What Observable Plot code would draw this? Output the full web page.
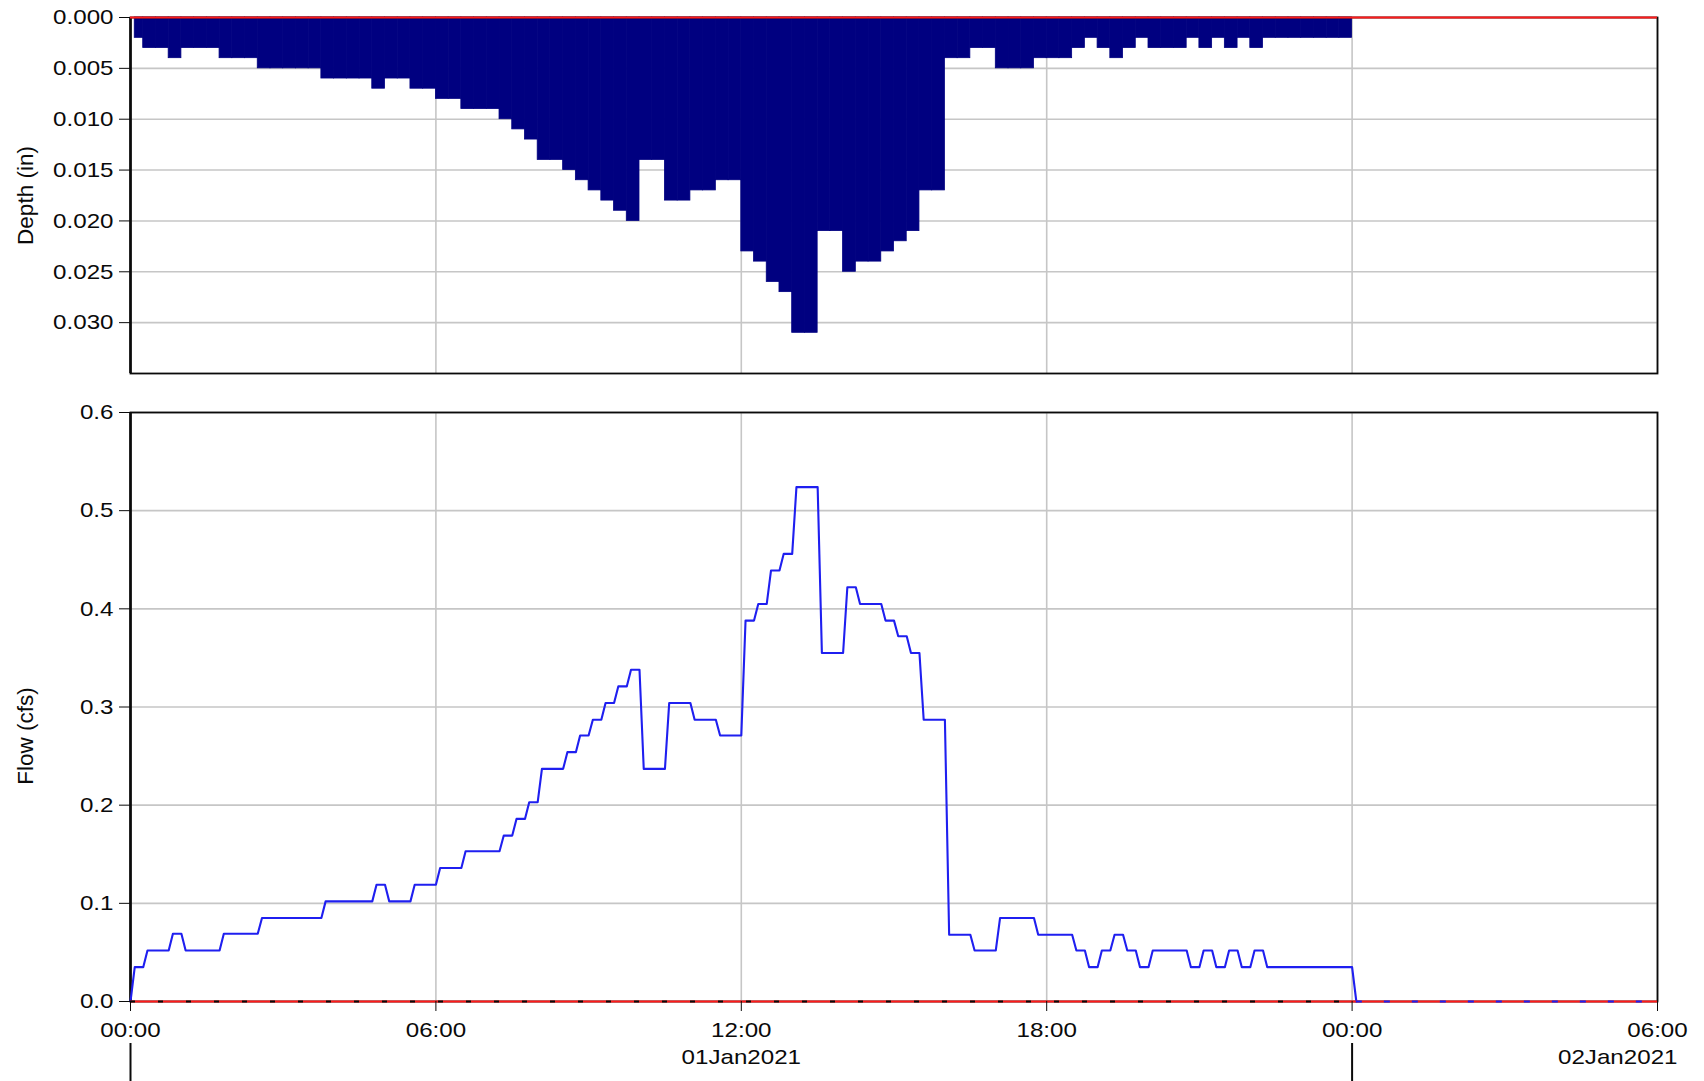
<!DOCTYPE html>
<html><head><meta charset="utf-8">
<script src="https://cdn.jsdelivr.net/npm/d3@7"></script>
<script src="https://cdn.jsdelivr.net/npm/@observablehq/plot@0.6"></script>
<style>
html,body{margin:0;padding:0;background:#fff;}
#chart{position:relative;width:1704px;height:1081px;overflow:hidden;background:#fff;}
#chart svg{display:block;}
</style></head><body><div id="chart"></div>
<script>
// ---- data ----
const startTime = "2021-01-01T00:00:00Z";
const endTime = "2021-01-02T06:00:00Z";
const firstReading = "2021-01-01T00:05:00Z";
const stepMinutes = 15;
const rampMinutes = 5;

const depthIn = [
  0.002, 0.003, 0.003, 0.004, 0.003, 0.003, 0.003, 0.004, 0.004, 0.004,
  0.005, 0.005, 0.005, 0.005, 0.005, 0.006, 0.006, 0.006, 0.006, 0.007,
  0.006, 0.006, 0.007, 0.007, 0.008, 0.008, 0.009, 0.009, 0.009, 0.010,
  0.011, 0.012, 0.014, 0.014, 0.015, 0.016, 0.017, 0.018, 0.019, 0.020,
  0.014, 0.014, 0.018, 0.018, 0.017, 0.017, 0.016, 0.016, 0.023, 0.024,
  0.026, 0.027, 0.031, 0.031, 0.021, 0.021, 0.025, 0.024, 0.024, 0.023,
  0.022, 0.021, 0.017, 0.017, 0.004, 0.004, 0.003, 0.003, 0.005, 0.005,
  0.005, 0.004, 0.004, 0.004, 0.003, 0.002, 0.003, 0.004, 0.003, 0.002,
  0.003, 0.003, 0.003, 0.002, 0.003, 0.002, 0.003, 0.002, 0.003, 0.002,
  0.002, 0.002, 0.002, 0.002, 0.002, 0.002
];

const flowCfs = [
  0.035, 0.052, 0.052, 0.069, 0.052, 0.052, 0.052, 0.069, 0.069, 0.069,
  0.085, 0.085, 0.085, 0.085, 0.085, 0.102, 0.102, 0.102, 0.102, 0.119,
  0.102, 0.102, 0.119, 0.119, 0.136, 0.136, 0.153, 0.153, 0.153, 0.169,
  0.186, 0.203, 0.237, 0.237, 0.254, 0.271, 0.287, 0.304, 0.321, 0.338,
  0.237, 0.237, 0.304, 0.304, 0.287, 0.287, 0.271, 0.271, 0.388, 0.405,
  0.439, 0.456, 0.524, 0.524, 0.355, 0.355, 0.422, 0.405, 0.405, 0.388,
  0.372, 0.355, 0.287, 0.287, 0.068, 0.068, 0.052, 0.052, 0.085, 0.085,
  0.085, 0.068, 0.068, 0.068, 0.052, 0.035, 0.052, 0.068, 0.052, 0.035,
  0.052, 0.052, 0.052, 0.035, 0.052, 0.035, 0.052, 0.035, 0.052, 0.035,
  0.035, 0.035, 0.035, 0.035, 0.035, 0.035
];

const depthTicks = [0, 0.005, 0.010, 0.015, 0.020, 0.025, 0.030];
const flowTicks = [0, 0.1, 0.2, 0.3, 0.4, 0.5, 0.6];
const timeTicks = [
  "2021-01-01T00:00:00Z", "2021-01-01T06:00:00Z", "2021-01-01T12:00:00Z",
  "2021-01-01T18:00:00Z", "2021-01-02T00:00:00Z", "2021-01-02T06:00:00Z"
];
const dayBoundaries = ["2021-01-01T00:00:00Z", "2021-01-02T00:00:00Z"];
const dayLabels = ["01Jan2021", "02Jan2021"];
const dayLabelTimes = ["2021-01-01T12:00:00Z", "2021-01-02T06:00:00Z"];
const depthLabel = "Depth (in)";
const flowLabel = "Flow (cfs)";

// ---- derived tables ----
const parse = s => new Date(s);
const MIN = 60000;
const t0 = parse(startTime);
const tFirst = parse(firstReading);
const bars = depthIn.map((d, i) => {
  const s = new Date(+t0 + i * stepMinutes * MIN);
  return {start: s < tFirst ? tFirst : s, end: new Date(+s + stepMinutes * MIN), depth: d};
});
const flowPts = [];
for (let i = 0; i <= flowCfs.length; i++) {
  const t = new Date(+t0 + i * stepMinutes * MIN);
  const prev = i > 0 ? flowCfs[i - 1] : 0;
  const cur = i < flowCfs.length ? flowCfs[i] : 0;
  flowPts.push({t, q: prev});
  flowPts.push({t: new Date(+t + rampMinutes * MIN), q: cur});
}
const flowEnd = flowPts[flowPts.length - 1].t;

// ---- styling ----
const W = 1704;
const xDomain = [parse(startTime), parse(endTime)];
const tickDates = timeTicks.map(parse);
const gridColor = "#c6c6c6";
const ink = "#0a0a0a";
const FONT = "'Liberation Sans', Arial, Helvetica, sans-serif";
const FS = 21;
const LFS = 22.5;
const baseStyle = {fontFamily: FONT, fontSize: FS + "px", color: ink, background: "white", overflow: "visible"};
const blue = "#1f1ff0";
const red = "#ff1a1a";
const navy = "#000080";

const topChart = Plot.plot({
  width: W, height: 395,
  marginLeft: 130, marginRight: 47, marginTop: 17, marginBottom: 22,
  style: baseStyle,
  x: {type: "utc", domain: xDomain, axis: null},
  y: {domain: [0, 0.035], reverse: true},
  marks: [
    Plot.gridX({ticks: tickDates, stroke: gridColor, strokeOpacity: 1, strokeWidth: 1.6}),
    Plot.gridY({ticks: depthTicks, stroke: gridColor, strokeOpacity: 1, strokeWidth: 1.6}),
    Plot.rect(bars, {x1: "start", x2: "end", y1: () => 0, y2: "depth", fill: navy, stroke: navy, strokeWidth: 0.8}),
    Plot.frame({stroke: ink, strokeWidth: 1.8}),
    Plot.ruleX([xDomain[0]], {stroke: ink, strokeWidth: 2.6}),
    Plot.ruleY([0], {stroke: red, strokeWidth: 2}),
    Plot.axisY({ticks: depthTicks, anchor: "left", tickSize: 11, tickPadding: 6,
      tickFormat: d3.format(".3f"), fontSize: FS, label: null, stroke: ink}),
    Plot.text([depthLabel], {frameAnchor: "left", textAnchor: "middle", rotate: -90, dx: -105,
      text: d => d, fontSize: LFS, fill: ink})
  ]
});

const bottomChart = Plot.plot({
  width: W, height: 686,
  marginLeft: 130, marginRight: 47, marginTop: 17, marginBottom: 80,
  style: baseStyle,
  x: {type: "utc", domain: xDomain},
  y: {domain: [0, 0.6]},
  marks: [
    Plot.gridX({ticks: tickDates, stroke: gridColor, strokeOpacity: 1, strokeWidth: 1.6}),
    Plot.gridY({ticks: flowTicks, stroke: gridColor, strokeOpacity: 1, strokeWidth: 1.6}),
    Plot.frame({stroke: ink, strokeWidth: 1.8}),
    Plot.ruleX([xDomain[0]], {stroke: ink, strokeWidth: 2.6}),
    Plot.line(flowPts, {x: "t", y: "q", stroke: blue, strokeWidth: 2.1}),
    Plot.ruleY([0], {stroke: red, strokeWidth: 2}),
    Plot.ruleY([0], {x1: () => parse(dayBoundaries[0]), x2: () => parse(dayBoundaries[1]),
      stroke: ink, strokeWidth: 2, strokeDasharray: "5,23"}),
    Plot.ruleY([0], {x1: () => flowEnd, x2: () => parse(endTime),
      stroke: blue, strokeWidth: 2, strokeDasharray: "6,22"}),
    Plot.axisY({ticks: flowTicks, anchor: "left", tickSize: 11, tickPadding: 6,
      tickFormat: d3.format(".1f"), fontSize: FS, label: null, stroke: ink}),
    Plot.axisX({ticks: tickDates, anchor: "bottom", tickSize: 10, tickPadding: 11,
      tickFormat: d3.utcFormat("%H:%M"), fontSize: FS, label: null, stroke: ink}),
    Plot.ruleX(dayBoundaries.map(parse), {y1: () => 0, y2: () => 0, insetTop: 42, insetBottom: -80,
      stroke: ink, strokeWidth: 2}),
    Plot.text([dayLabels[0]], {x: () => parse(dayLabelTimes[0]), text: d => d, frameAnchor: "bottom",
      dy: 62, fontSize: FS, fill: ink}),
    Plot.text([dayLabels[1]], {x: () => parse(dayLabelTimes[1]), text: d => d, frameAnchor: "bottom",
      textAnchor: "end", dx: 20, dy: 62, fontSize: FS, fill: ink}),
    Plot.text([flowLabel], {frameAnchor: "left", textAnchor: "middle", rotate: -90, dx: -105, dy: 29,
      text: d => d, fontSize: LFS, fill: ink})
  ]
});

const container = document.getElementById("chart");
container.append(topChart, bottomChart);
// reference text glyphs are horizontally widened; mimic it for horizontal text only
container.querySelectorAll("text").forEach(t => {
  const tr = (t.getAttribute("transform") || "") + (t.parentNode.getAttribute("transform") || "");
  if (tr.includes("rotate")) return;
  const n = t.getComputedTextLength();
  if (n > 0) {
    t.setAttribute("textLength", (n * 1.15).toFixed(1));
    t.setAttribute("lengthAdjust", "spacingAndGlyphs");
  }
});
</script>
</body></html>
